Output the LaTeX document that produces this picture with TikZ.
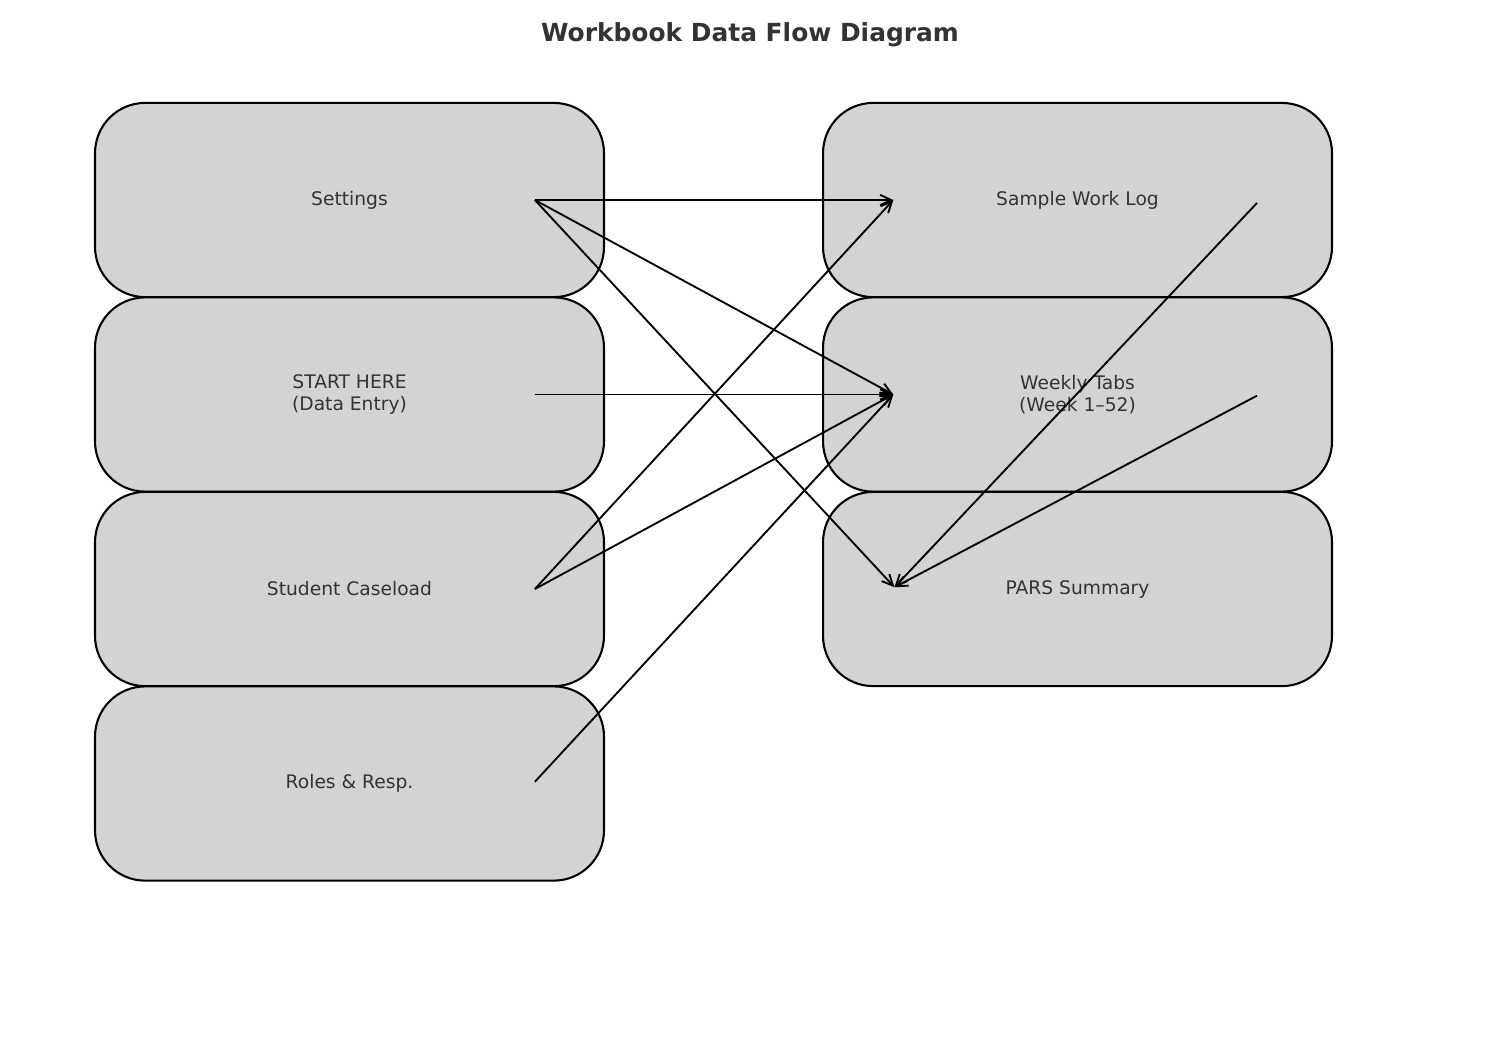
\documentclass[tikz,border=0pt]{standalone}
\usepackage{fontspec}
\setmainfont{DejaVu Sans}
\usepackage{xcolor}
\usetikzlibrary{arrows.meta}
\definecolor{inkgray}{HTML}{333333}
\definecolor{sheetgray}{HTML}{D3D3D3}

\begin{document}
\begin{tikzpicture}[
      x=0.016933cm, y=-0.016933cm,
      sheet/.style={draw=black,fill=sheetgray,line width=1pt,rounded corners=0.85cm,
        minimum width=8.62cm,minimum height=3.29cm,inner sep=0pt,align=center,
        text=inkgray,font=\fontsize{9}{10.8}\selectfont},
      flow/.style={line width=0.9pt,-{Straight Barb[length=5.3pt,width=5pt]}},
      heading/.style={text=inkgray,font=\fontsize{12}{14}\selectfont\bfseries}
    ]
    \useasboundingbox (0,0) rectangle (1500,1050);
    % Title.
    \node[heading] (title) at (750,35) {Workbook Data Flow Diagram};
    % Draw the source sheets.
    \node[sheet] (settings) at (349.5,200)   {Settings};
    \node[sheet] (start)    at (349.5,394.5) {START HERE\\(Data Entry)};
    \node[sheet] (caseload) at (349.5,589)   {Student Caseload};
    \node[sheet] (roles)    at (349.5,783.5) {Roles \& Resp.};
    % Draw the target sheets.
    \node[sheet] (worklog)  at (1077.5,200)   {Sample Work Log};
    \node[sheet] (weekly)   at (1077.5,394.5) {Weekly Tabs\\(Week 1--52)};
    \node[sheet] (pars)     at (1077.5,589)   {PARS Summary};
    % Ports of the sheets.
    \coordinate (settings-out) at ([xshift=3.14cm]settings.center);
    \coordinate (start-out)    at ([xshift=3.14cm]start.center);
    \coordinate (caseload-out) at ([xshift=3.14cm]caseload.center);
    \coordinate (roles-out)    at ([xshift=3.14cm,yshift=0.03cm]roles.center);
    \coordinate (worklog-in)   at ([xshift=-3.12cm]worklog.center);
    \coordinate (weekly-in)    at ([xshift=-3.12cm]weekly.center);
    \coordinate (pars-in)      at ([xshift=-3.1cm,yshift=0.03cm]pars.center);
    \coordinate (worklog-out)  at ([xshift=3.04cm,yshift=-0.05cm]worklog.center);
    \coordinate (weekly-out)   at ([xshift=3.04cm,yshift=-0.02cm]weekly.center);
    % Draw the flows.
    \draw[flow] (settings-out) -- (worklog-in);
    \draw[flow] (settings-out) -- (weekly-in);
    \draw[flow] (settings-out) -- (pars-in);
    \draw[flow] (start-out)    -- (weekly-in);
    \draw[flow] (caseload-out) -- (worklog-in);
    \draw[flow] (caseload-out) -- (weekly-in);
    \draw[flow] (roles-out)    -- (weekly-in);
    \draw[flow] (worklog-out)  -- (pars-in);
    \draw[flow] (weekly-out)   -- (pars-in);
\end{tikzpicture}
\end{document}
